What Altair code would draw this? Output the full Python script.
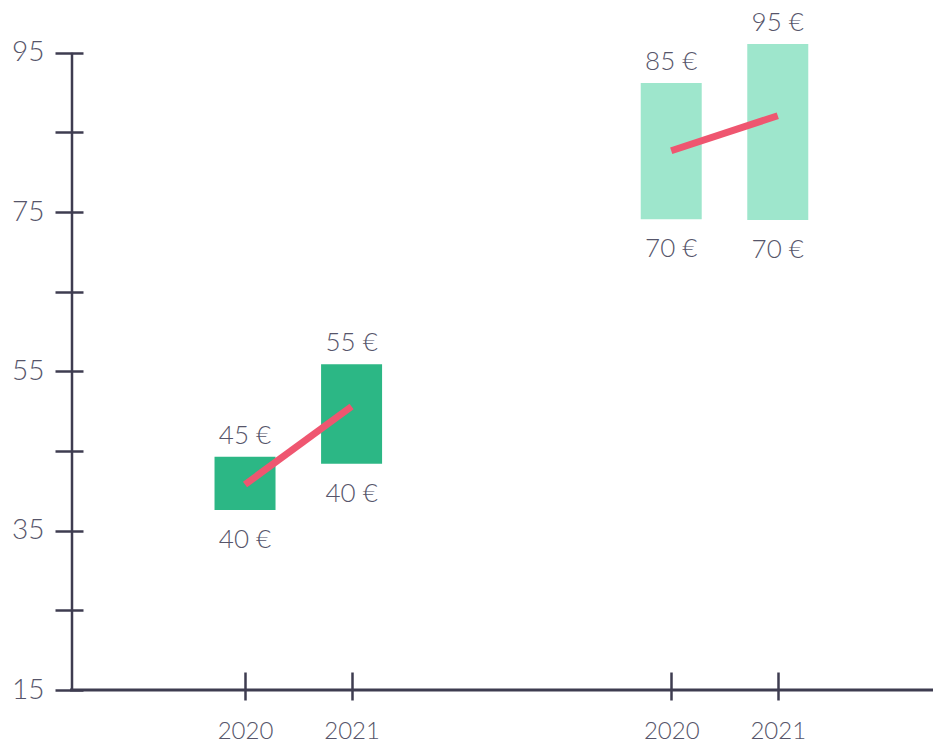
import altair as alt
import pandas as pd

groups = ["g1", "g1", "g2", "g2"]
years = ["2020", "2021", "2020", "2021"]
low = [37.6, 43.4, 74.1, 74.0]
high = [44.3, 55.9, 91.2, 96.1]
mid = [40.8, 50.6, 82.7, 87.1]
top_labels = ["45 €", "55 €", "85 €", "95 €"]
bottom_labels = ["40 €", "40 €", "70 €", "70 €"]
group_colors = {"g1": "#2cb785", "g2": "#9ee6cc"}
y_ticks = [15, 25, 35, 45, 55, 65, 75, 85, 95]
y_labeled = [15, 35, 55, 75, 95]

df = pd.DataFrame({
    "group": groups, "year": years, "low": low, "high": high, "mid": mid,
    "top": top_labels, "bottom": bottom_labels,
})
gidx = {g: i for i, g in enumerate(dict.fromkeys(groups))}
yidx = {y: i for i, y in enumerate(dict.fromkeys(years))}
df["pos"] = [gidx[g] * 4 + yidx[y] + 1.5 for g, y in zip(groups, years)]
df["color"] = [group_colors[g] for g in groups]

W, H = 861, 677
FONT = "Lato"
TXT = "#56556a"
AX = "#3e3c50"

xs = alt.Scale(domain=[-0.077, 7.91], nice=False, zero=False)
ys = alt.Scale(domain=[15, 100], nice=False, zero=False)
tick_pos = sorted(df["pos"].tolist())
label_expr = " : ".join(
    f"datum.value == {p} ? '{y}'" for p, y in zip(df["pos"], df["year"])
) + " : ''"

xaxis = alt.Axis(values=tick_pos, labelExpr=label_expr, domain=False, grid=False,
                 tickSize=28, offset=-18, tickWidth=2.5, tickColor=AX,
                 labelFont=FONT, labelFontSize=24, labelFontWeight=300, labelColor=TXT,
                 labelPadding=19, title=None)
yaxis = alt.Axis(values=y_ticks,
                 labelExpr="indexof(" + str(y_labeled) + ", datum.value) >= 0 ? datum.label : ''",
                 domain=False, grid=False, tickSize=28, offset=-11, tickWidth=2.5,
                 tickColor=AX, labelFont=FONT, labelFontSize=28, labelFontWeight=300,
                 labelColor=TXT, labelPadding=11, title=None)

base = alt.Chart(df)

bars = base.mark_bar(size=61).encode(
    x=alt.X("pos:Q", scale=xs, axis=xaxis),
    y=alt.Y("low:Q", scale=ys, axis=yaxis),
    y2="high:Q",
    color=alt.Color("color:N", scale=None),
)

line = base.mark_line(strokeWidth=7, strokeCap="butt", color="#ef5670").encode(
    x=alt.X("pos:Q", scale=xs),
    y=alt.Y("mid:Q", scale=ys),
    detail="group:N",
)

top_text = base.mark_text(font=FONT, fontSize=26, fontWeight=300, color=TXT,
                          baseline="alphabetic", dy=-13).encode(
    x=alt.X("pos:Q", scale=xs), y=alt.Y("high:Q", scale=ys), text="top:N")
bot_text = base.mark_text(font=FONT, fontSize=26, fontWeight=300, color=TXT,
                          baseline="alphabetic", dy=38).encode(
    x=alt.X("pos:Q", scale=xs), y=alt.Y("low:Q", scale=ys), text="bottom:N")

yline = alt.Chart(pd.DataFrame({"a": [95], "b": [15]})).mark_rule(strokeWidth=2.5, color=AX).encode(
    x=alt.value(0), y=alt.Y("a:Q", scale=ys), y2=alt.Y2("b:Q"))
xline = alt.Chart(pd.DataFrame({"a": [0]})).mark_rule(strokeWidth=3, color=AX).encode(
    x=alt.value(-2), x2=alt.value(W), y=alt.value(H))

chart = alt.layer(bars, line, top_text, bot_text, yline, xline).properties(
    width=W, height=H,
    background="white",
    autosize=alt.AutoSizeParams(type="none"),
    padding={"left": 72, "top": 13, "right": 0, "bottom": 54},
).configure_view(stroke=None)

chart.save("out.html", embed_options={"renderer": "svg", "actions": False})
